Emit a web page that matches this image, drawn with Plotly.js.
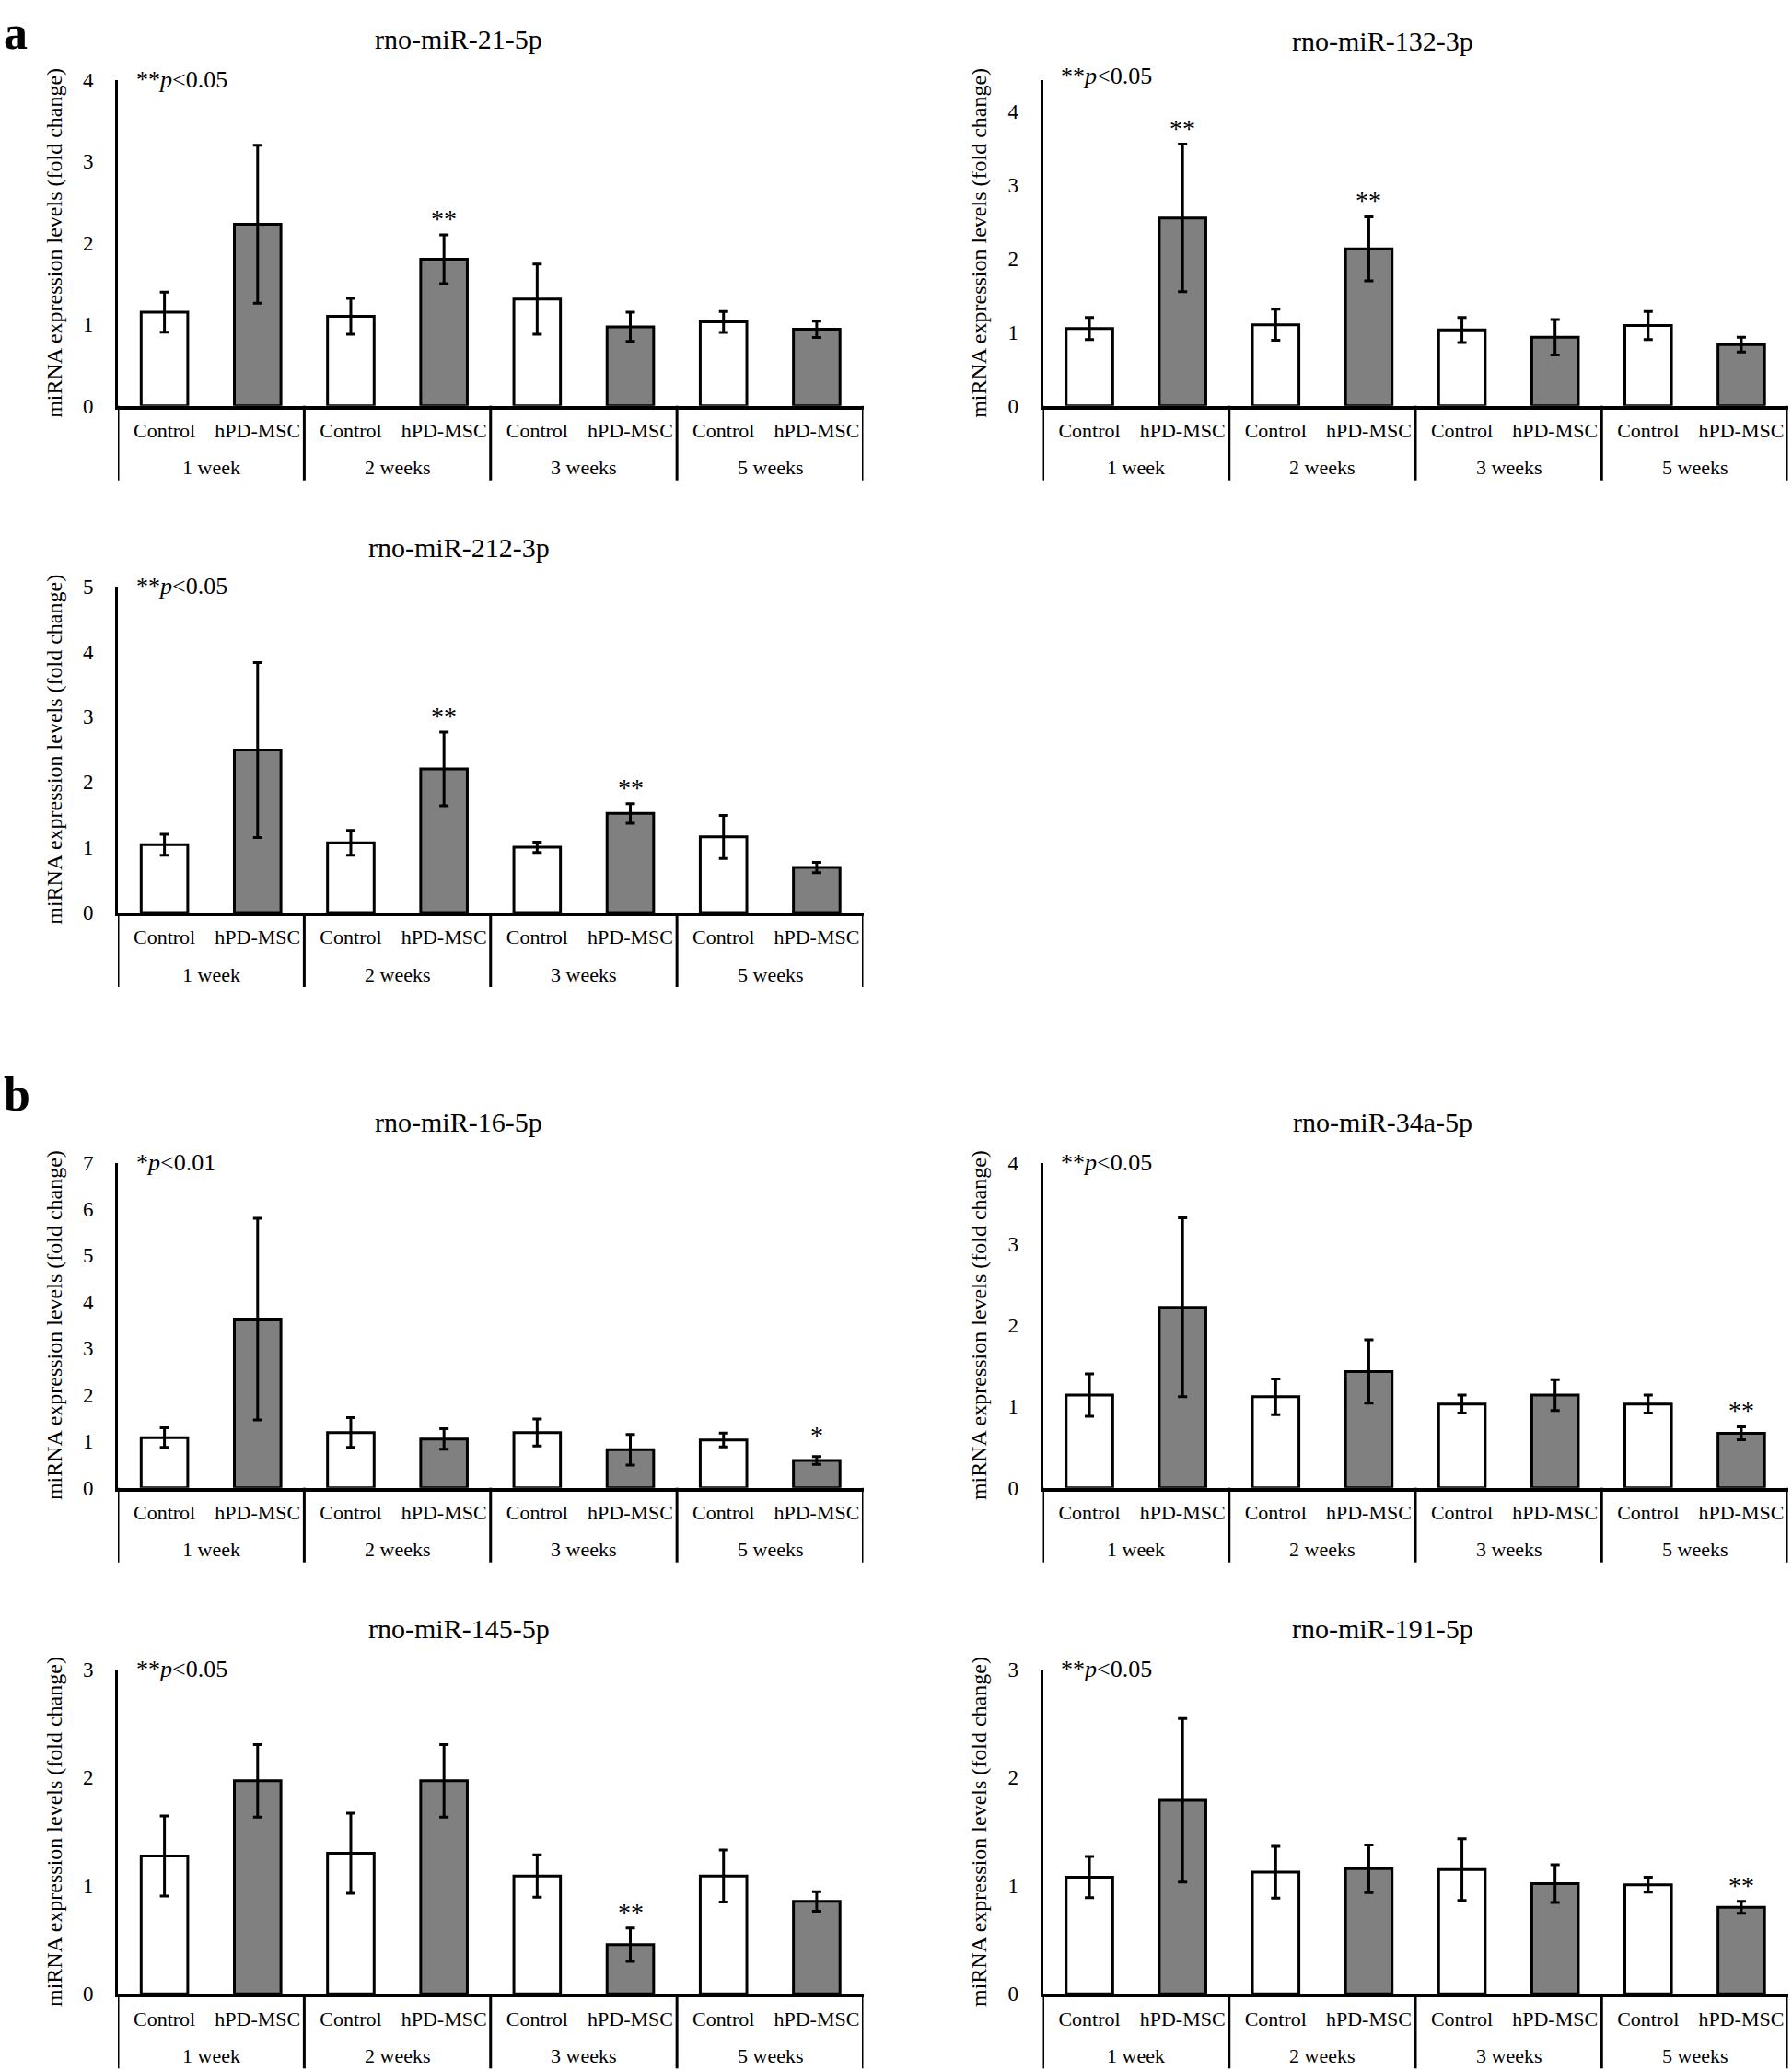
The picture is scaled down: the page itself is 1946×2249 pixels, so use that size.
<!DOCTYPE html>
<html>
<head>
<meta charset="utf-8">
<script src="https://cdn.plot.ly/plotly-3.0.1.min.js"></script>
<style>html,body{margin:0;padding:0;background:#fff;}#chart{width:1946px;height:2249px;}</style>
</head>
<body>
<div id="chart"></div>
<script>
// ---- data ----
const weekLabels = ['1 week','1 week','2 weeks','2 weeks','3 weeks','3 weeks','5 weeks','5 weeks'];
const groupLabels = ['Control','hPD-MSC','Control','hPD-MSC','Control','hPD-MSC','Control','hPD-MSC'];

const titles = ['rno-miR-21-5p','rno-miR-132-3p','rno-miR-212-3p','rno-miR-16-5p','rno-miR-34a-5p','rno-miR-145-5p','rno-miR-191-5p'];
const pNotes = ['**<i>p</i>&lt;0.05','**<i>p</i>&lt;0.05','**<i>p</i>&lt;0.05','*<i>p</i>&lt;0.01','**<i>p</i>&lt;0.05','**<i>p</i>&lt;0.05','**<i>p</i>&lt;0.05'];
const yMax = [4, 4.42, 5, 7, 4, 3, 3];

const miR21_mean  = [1.15, 2.23, 1.10, 1.80, 1.31, 0.97, 1.03, 0.94];
const miR21_err   = [0.245, 0.97, 0.22, 0.30, 0.43, 0.18, 0.13, 0.10];
const miR21_sig   = ['', '', '', '**', '', '', '', ''];

const miR132_mean = [1.05, 2.55, 1.10, 2.13, 1.03, 0.93, 1.09, 0.83];
const miR132_err  = [0.15, 1.00, 0.21, 0.435, 0.17, 0.24, 0.19, 0.10];
const miR132_sig  = ['', '**', '', '**', '', '', '', ''];

const miR212_mean = [1.04, 2.49, 1.07, 2.20, 1.00, 1.52, 1.16, 0.69];
const miR212_err  = [0.16, 1.34, 0.19, 0.565, 0.08, 0.15, 0.33, 0.08];
const miR212_sig  = ['', '', '', '**', '', '**', '', ''];

const miR16_mean  = [1.08, 3.63, 1.19, 1.05, 1.19, 0.82, 1.03, 0.59];
const miR16_err   = [0.21, 2.17, 0.32, 0.22, 0.29, 0.33, 0.15, 0.085];
const miR16_sig   = ['', '', '', '', '', '', '', '*'];

const miR34a_mean = [1.14, 2.22, 1.12, 1.43, 1.03, 1.14, 1.03, 0.67];
const miR34a_err  = [0.26, 1.10, 0.22, 0.39, 0.11, 0.19, 0.11, 0.08];
const miR34a_sig  = ['', '', '', '', '', '', '', '**'];

const miR145_mean = [1.275, 1.97, 1.30, 1.97, 1.09, 0.455, 1.09, 0.855];
const miR145_err  = [0.37, 0.335, 0.37, 0.335, 0.195, 0.155, 0.24, 0.09];
const miR145_sig  = ['', '', '', '', '', '**', '', ''];

const miR191_mean = [1.08, 1.79, 1.125, 1.157, 1.15, 1.02, 1.01, 0.80];
const miR191_err  = [0.19, 0.755, 0.24, 0.22, 0.285, 0.175, 0.07, 0.055];
const miR191_sig  = ['', '', '', '', '', '', '', '**'];

// ---- layout geometry (pixels of a 1946x2249 page) ----
const W = 1946, H = 2249;
const FONT = 'Liberation Serif, Times New Roman, serif';
const means = [miR21_mean, miR132_mean, miR212_mean, miR16_mean, miR34a_mean, miR145_mean, miR191_mean];
const errs  = [miR21_err, miR132_err, miR212_err, miR16_err, miR34a_err, miR145_err, miR191_err];
const sigs  = [miR21_sig, miR132_sig, miR212_sig, miR16_sig, miR34a_sig, miR145_sig, miR191_sig];

// category positions on the axis and group boundaries / centres derived from the labels
const catIdx = groupLabels.map((_, i) => i);
const boundaries = [];
weekLabels.forEach((w, i) => { if (i === 0 || w !== weekLabels[i - 1]) boundaries.push(i - 0.5); });
boundaries.push(weekLabels.length - 0.5);
const weekGroups = [];
weekLabels.forEach((w, i) => {
  const g = weekGroups.find(o => o.label === w);
  if (g) g.idx.push(i); else weekGroups.push({label: w, idx: [i]});
});

// plot boxes: [left/right, top, bottom(zero line)]
const colL = [128, 937.5], colR = [1132.5, 1941.5];
const boxes = [
  [colL, 87, 440.7],
  [colR, 87, 440.7],
  [colL, 636.6, 991],
  [colL, 1262.5, 1615.7],
  [colR, 1262.5, 1615.7],
  [colL, 1812.8, 2165.3],
  [colR, 1812.8, 2165.3]
];
const titlePos = [[498, 43], [1501, 44], [498, 595], [498, 1219], [1501, 1219], [498, 1768], [1501, 1768]];

const data = [];
const layout = {
  width: W, height: H,
  margin: {l: 0, r: 0, t: 0, b: 0, pad: 0},
  paper_bgcolor: '#ffffff', plot_bgcolor: 'rgba(0,0,0,0)',
  showlegend: false,
  barmode: 'overlay',
  bargap: 0.5,
  font: {family: FONT, color: '#000', size: 22},
  annotations: [],
  shapes: []
};

means.forEach((m, i) => {
  const n = i + 1;
  const xs = n === 1 ? 'x' : 'x' + n;
  const ys = n === 1 ? 'y' : 'y' + n;
  const [cx, top, zero] = boxes[i];
  const plotH = zero - top;
  data.push({
    type: 'bar',
    x: catIdx,
    y: m,
    xaxis: xs, yaxis: ys,
    width: 0.5,
    marker: {
      color: groupLabels.map(g => g === 'Control' ? '#ffffff' : '#808080'),
      line: {color: '#000', width: 3}
    },
    error_y: {type: 'data', array: errs[i], visible: true, color: '#000', thickness: 3, width: 5},
    hoverinfo: 'y'
  });
  layout['xaxis' + (n === 1 ? '' : n)] = {
    domain: [cx[0] / W, cx[1] / W],
    anchor: ys,
    type: 'linear',
    range: [-0.5, catIdx.length - 0.5],
    tickmode: 'array', tickvals: catIdx, ticktext: groupLabels,
    showline: true, linecolor: '#000', linewidth: 4,
    showgrid: false, zeroline: false,
    tickangle: 0,
    ticks: 'outside', ticklen: 4, tickcolor: 'rgba(0,0,0,0)',
    tickfont: {family: FONT, size: 22, color: '#000'}
  };
  layout['yaxis' + (n === 1 ? '' : n)] = {
    domain: [1 - zero / H, 1 - top / H],
    anchor: xs,
    range: [0, yMax[i]],
    tick0: 0, dtick: 1,
    showline: true, linecolor: '#000', linewidth: 3,
    showgrid: false, zeroline: false,
    ticks: '', ticklabelstandoff: 19,
    tickfont: {family: FONT, size: 23, color: '#000'},
    title: {text: 'miRNA expression levels (fold change)', font: {family: FONT, size: 24, color: '#000'}, standoff: 16}
  };
  // group dividers running down through the label rows
  boundaries.forEach(b => {
    layout.shapes.push({
      type: 'line', xref: xs, yref: ys + ' domain',
      x0: b, x1: b, y0: 0, y1: -81 / plotH,
      line: {color: '#000', width: 3}
    });
  });
  // week labels (outer category level)
  weekGroups.forEach(g => {
    layout.annotations.push({
      xref: xs, yref: ys + ' domain',
      x: g.idx.reduce((a, b) => a + b, 0) / g.idx.length, y: 0,
      xanchor: 'center', yanchor: 'middle', yshift: -67, showarrow: false,
      text: g.label, font: {family: FONT, size: 22, color: '#000'}
    });
  });
  // chart title
  layout.annotations.push({
    xref: 'paper', yref: 'paper', x: titlePos[i][0] / W, y: 1 - titlePos[i][1] / H,
    xanchor: 'center', yanchor: 'middle', showarrow: false,
    text: titles[i], font: {family: FONT, size: 30, color: '#000'}
  });
  // p-value note
  layout.annotations.push({
    xref: xs + ' domain', yref: ys + ' domain', x: 0.022, y: i === 1 ? 1.012 : 1.0,
    xanchor: 'left', yanchor: 'middle', showarrow: false,
    text: pNotes[i], font: {family: FONT, size: 26, color: '#000'}
  });
  // significance stars
  sigs[i].forEach((s, k) => {
    if (!s) return;
    layout.annotations.push({
      xref: xs, yref: ys, x: catIdx[k], y: m[k] + errs[i][k],
      xanchor: 'center', yanchor: 'bottom', showarrow: false, yshift: s === '*' ? 6 : 0,
      text: s, font: {family: FONT, size: 28, color: '#000'}
    });
  });
});

// panel letters
layout.annotations.push({xref: 'paper', yref: 'paper', x: 2 / W, y: 1 - 35 / H, xanchor: 'left', yanchor: 'middle', showarrow: false,
  text: '<b>a</b>', font: {family: FONT, size: 52, color: '#000'}});
layout.annotations.push({xref: 'paper', yref: 'paper', x: 2 / W, y: 1 - 1188 / H, xanchor: 'left', yanchor: 'middle', showarrow: false,
  text: '<b>b</b>', font: {family: FONT, size: 52, color: '#000'}});

Plotly.newPlot('chart', data, layout, {displayModeBar: false, staticPlot: true});
</script>
</body>
</html>
